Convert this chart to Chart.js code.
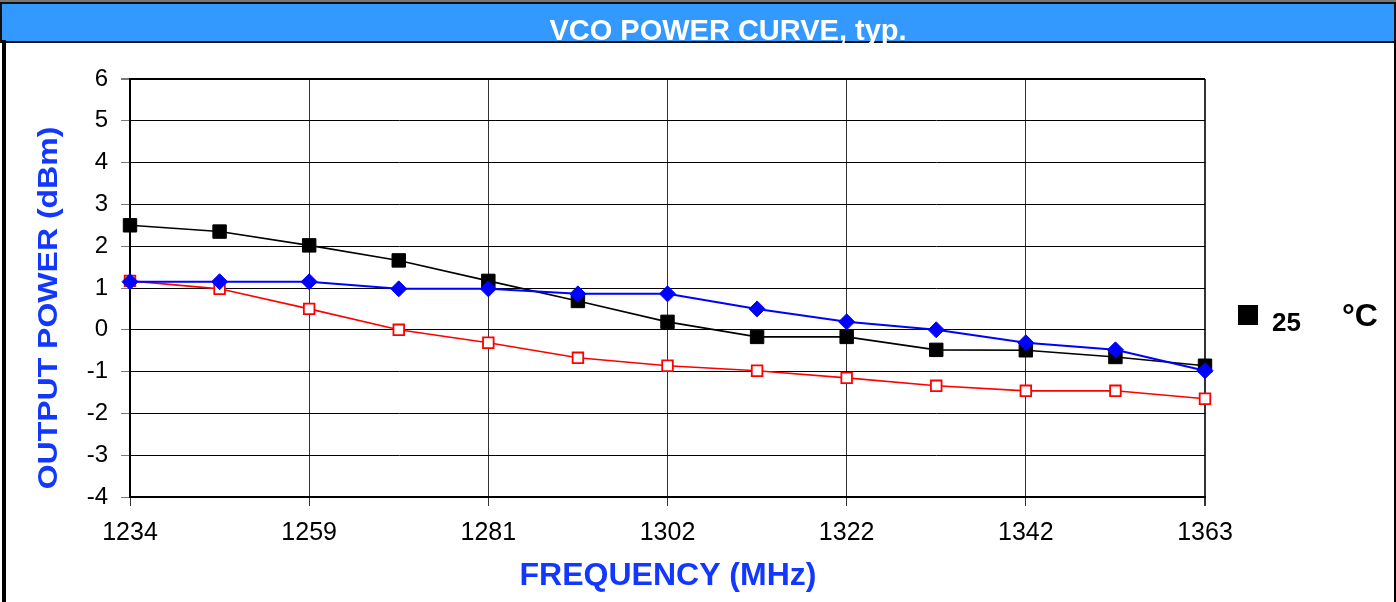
<!DOCTYPE html>
<html>
<head>
<meta charset="utf-8">
<script src="https://cdn.jsdelivr.net/npm/chart.js@4.4.1/dist/chart.umd.min.js"></script>
<style>
  html, body { margin: 0; padding: 0; background: #fff; }
  #wrap { position: relative; width: 1396px; height: 602px; overflow: hidden; }
  #topLine { position: absolute; left: 0; top: 0; width: 1396px; height: 2px; background: #777; z-index: 1; }
  #bar {
    position: absolute; left: 0; top: 2px; width: 1392px; height: 37px;
    background: #3399ff; border: 2px solid #111;
    z-index: 2;
  }
  #title {
    position: absolute; left: 0; top: 16px; width: 1396px; text-align: center;
    font: bold 29px "Liberation Sans", Arial, sans-serif; color: #fff;
    line-height: 1; white-space: nowrap; z-index: 3; padding-left: 60px; box-sizing: border-box;
  }
  #leftEdge { position: absolute; left: 2px; top: 40px; width: 4px; height: 562px; background: #000; z-index: 2; }
  #rightEdge { position: absolute; left: 1394px; top: 40px; width: 2px; height: 562px; background: #000; z-index: 2; }
  canvas { position: absolute; left: 0; top: 0; }
</style>
</head>
<body>
<div id="wrap">
  <div id="topLine"></div>
  <div id="bar"></div>
  <div id="leftEdge"></div>
  <div id="rightEdge"></div>
  <canvas id="vcoChart" width="1396" height="602"></canvas>
  <div id="title">VCO POWER CURVE, typ.</div>
</div>
<script>
// frequency points (MHz) - only every other one is labelled on the axis
const freqs = [1234, 1245, 1259, 1270, 1281, 1292, 1302, 1312, 1322, 1332, 1342, 1352, 1363];
const yTicks = [-4, -3, -2, -1, 0, 1, 2, 3, 4, 5, 6];

// output power (dBm)
const pwrBlue  = [1.15, 1.15, 1.15, 0.98, 0.98, 0.86, 0.86, 0.5, 0.19, 0.0, -0.31, -0.48, -0.98];
const pwr25    = [2.5, 2.35, 2.02, 1.66, 1.17, 0.69, 0.19, -0.17, -0.17, -0.48, -0.49, -0.65, -0.86];
const pwrRed   = [1.17, 0.98, 0.5, 0.0, -0.31, -0.67, -0.86, -0.98, -1.15, -1.34, -1.46, -1.46, -1.65];

const legendLabel = '25';
const legendUnit = '°C';

const FONT = '"Liberation Sans", Arial, sans-serif';
const BLUE_TXT = '#1238ff';

// axis titles + legend drawn by hand so they sit where the original has them
const extras = {
    id: 'extras',
    afterDraw(chart) {
        const ctx = chart.ctx;
        ctx.save();
        ctx.fillStyle = BLUE_TXT;
        ctx.font = 'bold 32px ' + FONT;
        ctx.textAlign = 'center';
        ctx.textBaseline = 'alphabetic';
        ctx.fillText('FREQUENCY (MHz)', 668, 585);

        ctx.translate(57, 308);
        ctx.rotate(-Math.PI / 2);
        ctx.scale(1, 0.85);
        ctx.fillText('OUTPUT POWER (dBm)', 0, 0);
        ctx.restore();

        // legend
        ctx.save();
        ctx.fillStyle = '#000';
        ctx.fillRect(1238, 305, 20, 20);
        ctx.font = 'bold 26px ' + FONT;
        ctx.textAlign = 'left';
        ctx.fillText(legendLabel, 1272, 331);
        ctx.font = 'bold 32px ' + FONT;
        ctx.fillText(legendUnit, 1342, 326);
        ctx.restore();
    }
};

const ctx = document.getElementById('vcoChart').getContext('2d');
new Chart(ctx, {
    type: 'line',
    data: {
        labels: freqs,
        datasets: [
            {
                label: 'blue',
                data: pwrBlue,
                borderColor: '#0000ff',
                backgroundColor: '#0000ff',
                borderWidth: 2,
                pointStyle: 'rectRot',
                pointRadius: 8,
                pointBorderWidth: 1,
                tension: 0,
                clip: false
            },
            {
                label: legendLabel,
                data: pwr25,
                borderColor: '#000',
                backgroundColor: '#000',
                borderWidth: 1.6,
                pointStyle: 'rect',
                pointRadius: 9.5,
                pointBorderWidth: 1,
                tension: 0,
                clip: false
            },
            {
                label: 'red',
                data: pwrRed,
                borderColor: '#ff0000',
                backgroundColor: '#ffffff',
                pointBackgroundColor: '#ffffff',
                borderWidth: 1.6,
                pointStyle: 'rect',
                pointRadius: 7.5,
                pointBorderWidth: 1.8,
                tension: 0,
                clip: false
            }
        ]
    },
    options: {
        responsive: false,
        animation: false,
        layout: { padding: { left: 0, top: 79, right: 191, bottom: 0 } },
        plugins: {
            legend: { display: false },
            tooltip: { enabled: false },
            title: { display: false }
        },
        scales: {
            x: {
                type: 'category',
                offset: false,
                afterFit(scale) { scale.height = 105; },
                border: { display: true, color: '#000', width: 2 },
                grid: {
                    color: c => (c.index % 2 === 0 ? '#333' : 'rgba(0,0,0,0)'),
                    lineWidth: c => (c.index === freqs.length - 1 ? 2 : 1),
                    tickLength: 9,
                    tickColor: c => (c.index % 2 === 0 ? '#333' : 'rgba(0,0,0,0)')
                },
                ticks: {
                    autoSkip: false,
                    maxRotation: 0,
                    padding: 12,
                    color: '#000',
                    font: { family: FONT, size: 25 },
                    callback(v, i) { return i % 2 === 0 ? String(freqs[i]) : ''; }
                }
            },
            y: {
                min: yTicks[0],
                max: yTicks[yTicks.length - 1],
                afterFit(scale) { scale.width = 130; },
                afterBuildTicks(scale) { scale.ticks = yTicks.map(v => ({ value: v })); },
                border: { display: true, color: '#000', width: 2 },
                grid: {
                    color: '#000',
                    lineWidth: c => (c.tick && c.tick.value === 6 ? 2 : 1),
                    tickLength: 9,
                    tickColor: '#777'
                },
                ticks: {
                    padding: 13,
                    color: '#000',
                    font: { family: FONT, size: 24 }
                }
            }
        }
    },
    plugins: [extras]
});
</script>
</body>
</html>
